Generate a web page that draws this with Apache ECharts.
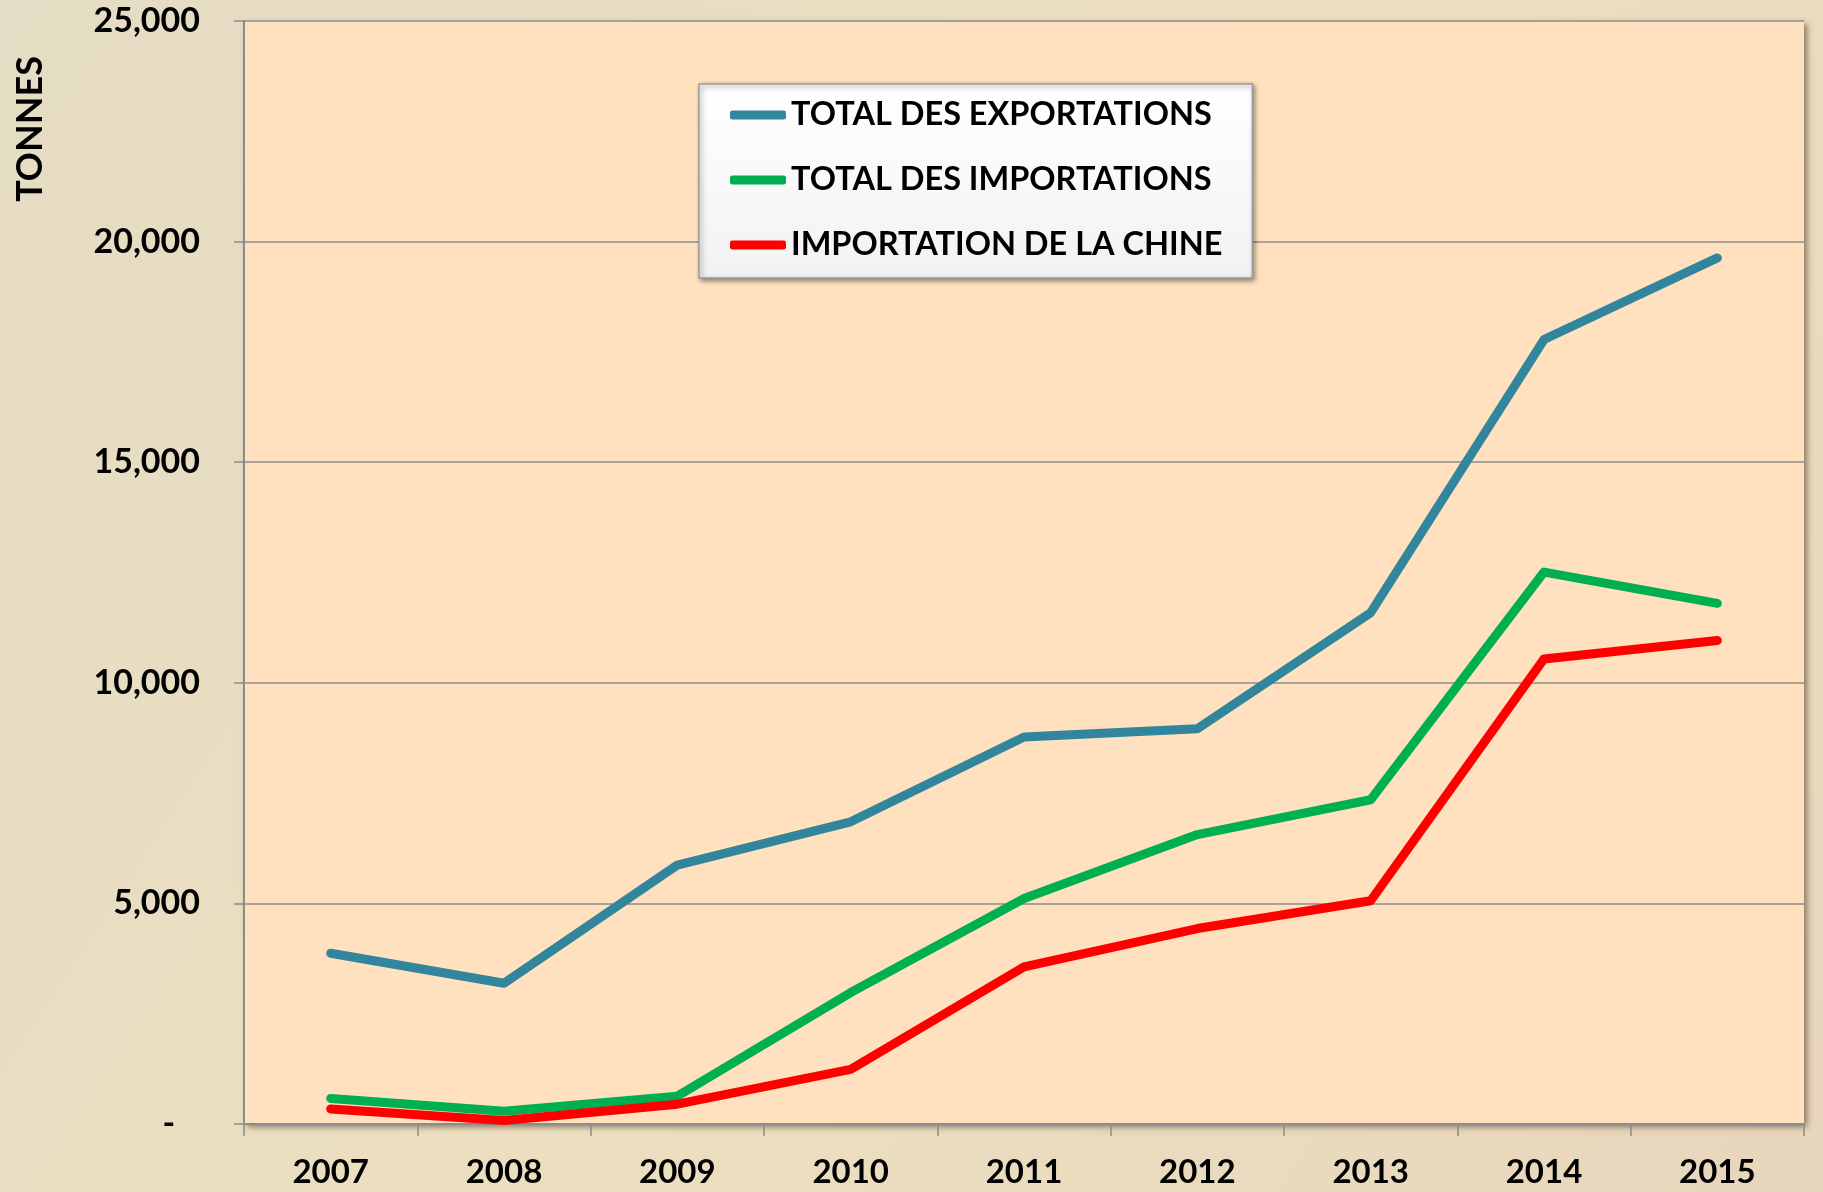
<!DOCTYPE html>
<html>
<head>
<meta charset="utf-8">
<script src="https://cdn.jsdelivr.net/npm/echarts@6/dist/echarts.min.js"></script>
<style>
html, body { margin: 0; padding: 0; }
#main { width: 1823px; height: 1192px; }
</style>
</head>
<body>
<div id="main"></div>
<script>
var years = ['2007', '2008', '2009', '2010', '2011', '2012', '2013', '2014', '2015'];
var exportations = [3870, 3190, 5870, 6850, 8770, 8960, 11590, 17780, 19630];
var importations = [580, 290, 630, 2980, 5110, 6560, 7350, 12510, 11800];
var importChine = [340, 80, 450, 1240, 3560, 4430, 5060, 10540, 10960];
var seriesNames = ['TOTAL DES EXPORTATIONS', 'TOTAL DES IMPORTATIONS', 'IMPORTATION DE LA CHINE'];
var seriesColors = ['#31859c', '#00b050', '#ff0000'];

var font = 'Lato, "Open Sans", sans-serif';

var myChart = echarts.init(document.getElementById('main'));

function makeSeries(name, data, color) {
    return {
        name: name,
        type: 'line',
        data: data,
        showSymbol: false,
        symbol: 'none',
        color: color,
        lineStyle: { width: 9, color: color, cap: 'round', join: 'round' }
    };
}

var option = {
    backgroundColor: {
        type: 'linear', x: 0, y: 0, x2: 1, y2: 1,
        colorStops: [
            { offset: 0, color: '#e4dcc4' },
            { offset: 0.5, color: '#ecdfbf' },
            { offset: 1, color: '#e8d6bc' }
        ]
    },
    grid: {
        left: 244, right: 19, top: 21, bottom: 68,
        show: true,
        backgroundColor: '#ffe1bf',
        borderWidth: 0,
        shadowColor: 'rgba(60,40,20,0.55)',
        shadowBlur: 6,
        shadowOffsetX: 3,
        shadowOffsetY: 3
    },
    legend: {
        orient: 'vertical',
        left: 699,
        top: 84,
        padding: [14, 30, 16, 31],
        itemGap: 31,
        itemWidth: 56,
        itemHeight: 9,
        icon: 'roundRect',
        backgroundColor: {
            type: 'linear', x: 0, y: 0, x2: 0, y2: 1,
            colorStops: [
                { offset: 0, color: '#ffffff' },
                { offset: 1, color: '#f2f2f2' }
            ]
        },
        borderColor: '#9a9a9a',
        borderWidth: 1.5,
        shadowColor: 'rgba(0,0,0,0.45)',
        shadowBlur: 5,
        shadowOffsetX: 2,
        shadowOffsetY: 2,
        textStyle: { fontFamily: font, fontWeight: 'bold', fontSize: 32.5, color: '#000', lineHeight: 34 },
        data: seriesNames
    },
    xAxis: {
        type: 'category',
        data: years,
        boundaryGap: true,
        axisLine: { lineStyle: { color: '#8c8c8c', width: 2 } },
        axisTick: { show: true, length: 12, lineStyle: { color: '#8c8c8c', width: 1.5 } },
        axisLabel: { margin: 32, fontFamily: font, fontWeight: 'bold', fontSize: 33, color: '#000' }
    },
    yAxis: {
        type: 'value',
        min: 0,
        max: 25000,
        interval: 5000,
        axisLine: { show: true, lineStyle: { color: '#8c8c8c', width: 2 } },
        axisTick: { show: true, length: 10, lineStyle: { color: '#8c8c8c', width: 1.5 } },
        splitLine: { lineStyle: { color: '#8c8c8c', width: 1.5 } },
        axisLabel: {
            margin: 44,
            fontFamily: font, fontWeight: 'bold', fontSize: 34, color: '#000',
            formatter: function (v) {
                return v === 0 ? '-   ' : v.toLocaleString('en-US');
            }
        }
    },
    graphic: [
        {
            type: 'text',
            x: 30, y: 129,
            rotation: Math.PI / 2,
            style: {
                text: 'TONNES',
                fontFamily: font, fontWeight: 'bold', fontSize: 36, fill: '#000',
                textAlign: 'center', textVerticalAlign: 'middle'
            }
        }
    ],
    series: [
        makeSeries(seriesNames[0], exportations, seriesColors[0]),
        makeSeries(seriesNames[1], importations, seriesColors[1]),
        makeSeries(seriesNames[2], importChine, seriesColors[2])
    ]
};
myChart.setOption(option);
</script>
</body>
</html>
